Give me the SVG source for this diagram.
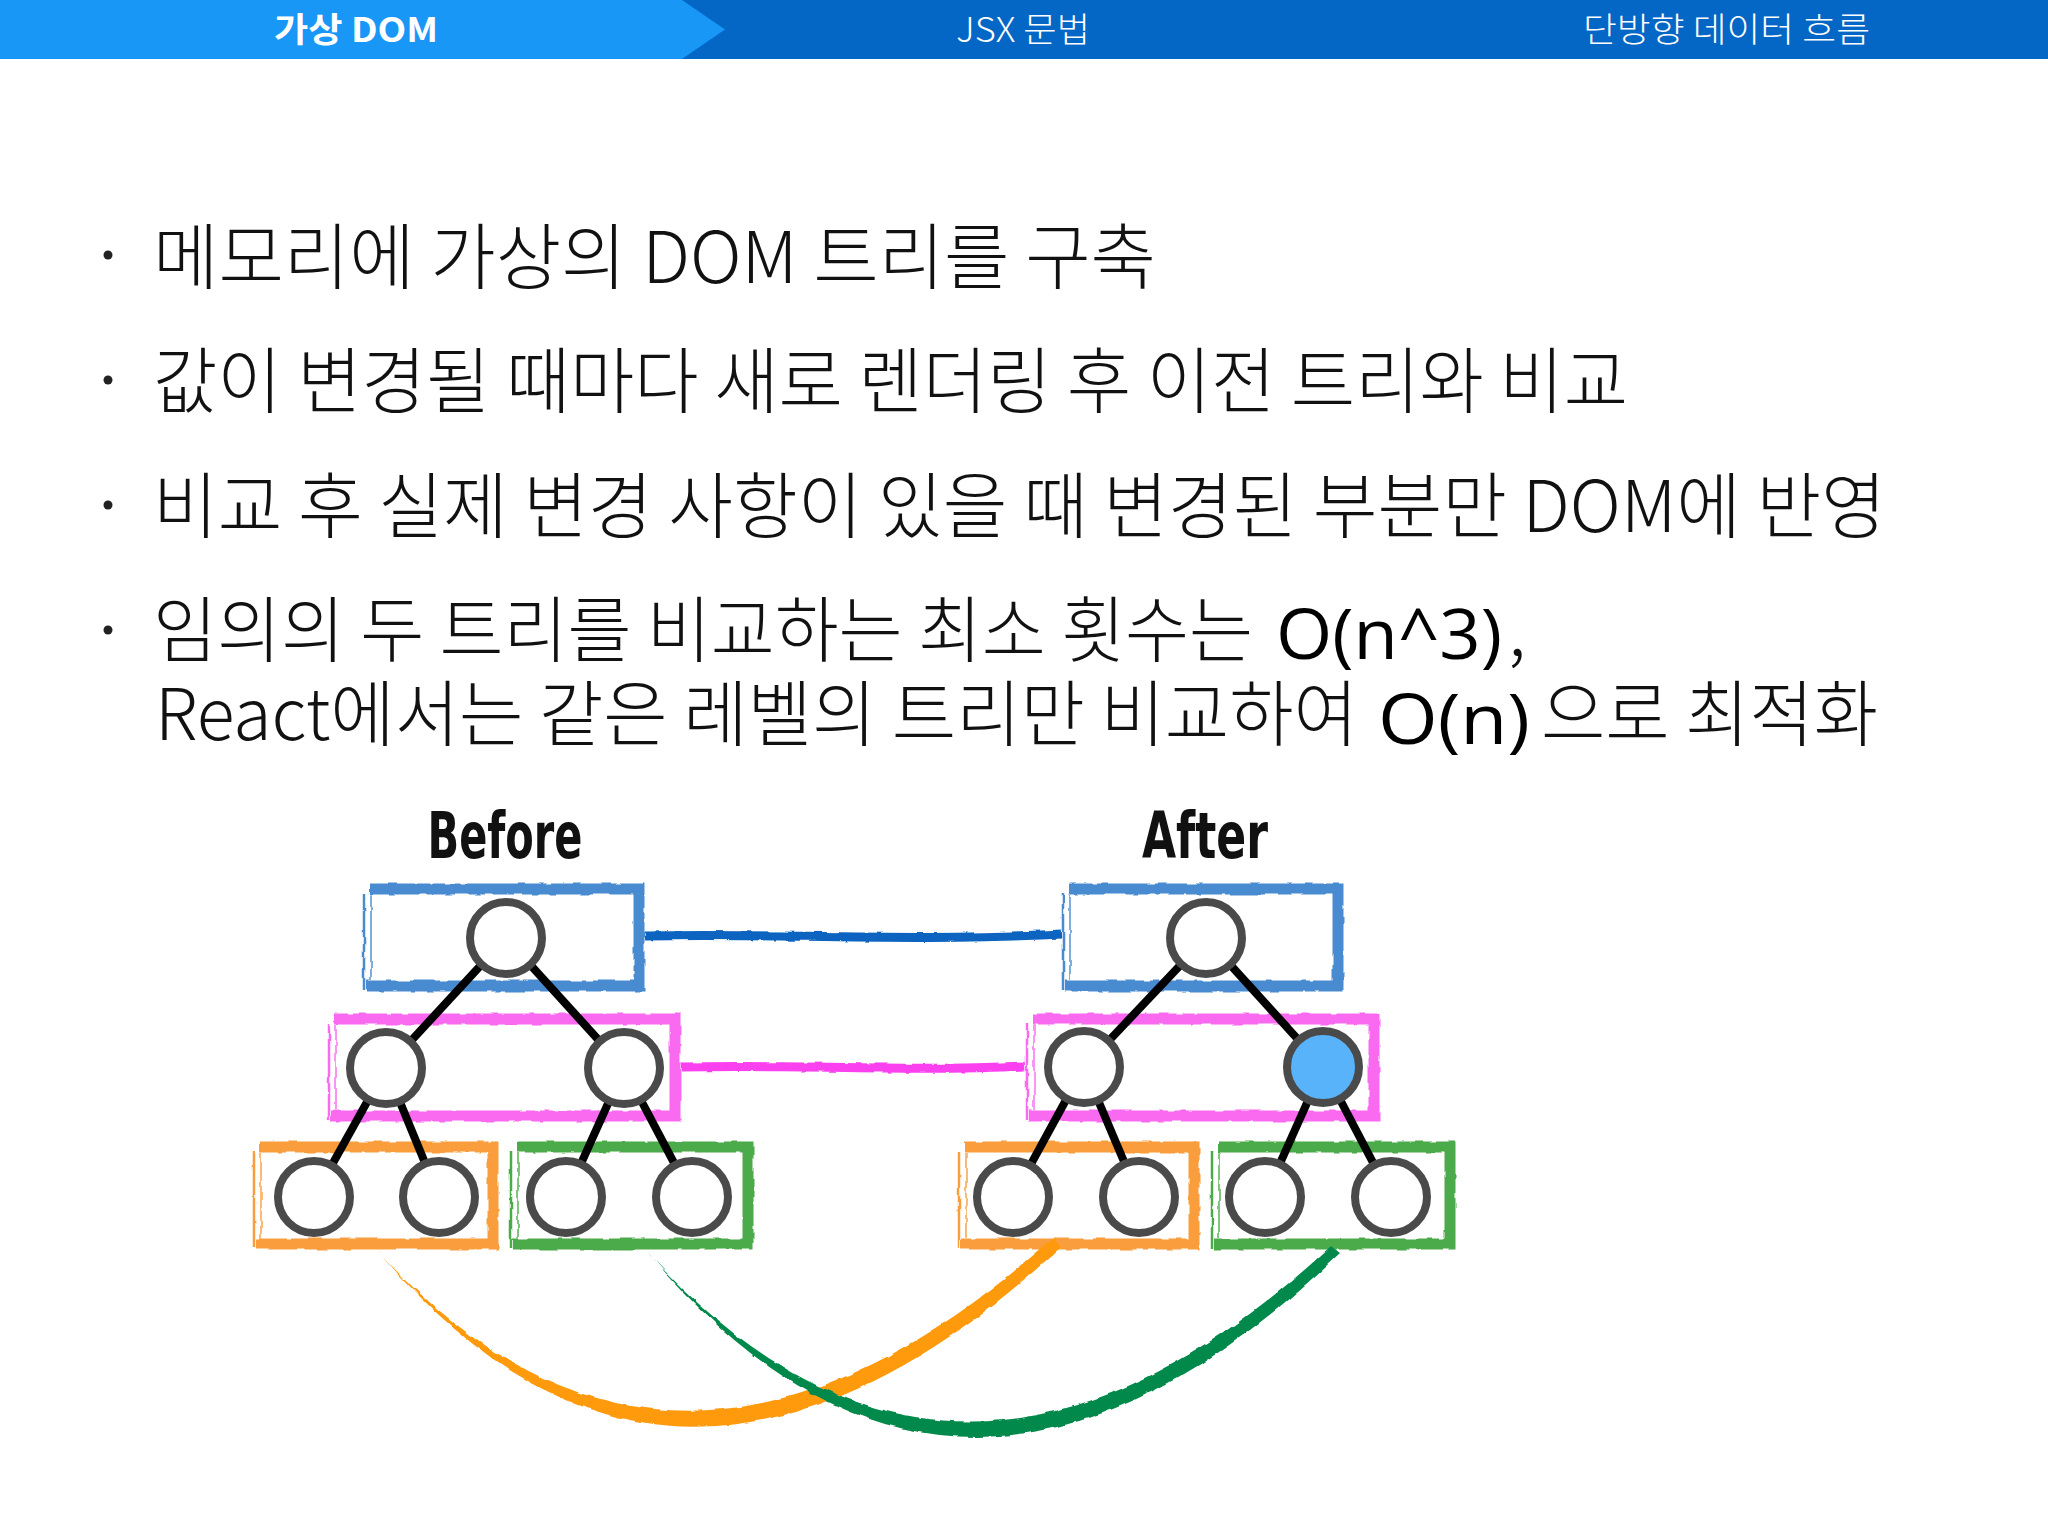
<svg xmlns="http://www.w3.org/2000/svg" width="2048" height="1536" viewBox="0 0 2048 1536">
<defs>
<style>
.hdr{font-family:"Noto Sans CJK KR","Noto Sans",sans-serif;font-size:34px;fill:#fff;font-weight:300}
.hdr-on{font-weight:700}
.body{font-family:"Noto Sans CJK KR","Noto Sans",sans-serif;font-weight:300;font-size:72px;fill:#111}
.math{font-family:"Open Sans","Noto Sans",sans-serif;font-weight:400;font-size:69px;fill:#000}
.lbl{font-family:"Liberation Sans Narrow","DejaVu Sans Condensed","Liberation Sans",sans-serif;font-weight:700;font-size:64px;fill:#111;text-anchor:middle}
.dot{fill:#222}
.band{fill:none;stroke-width:11;stroke-linejoin:miter}
.thin{fill:none;stroke-width:2.5}
.thin2{fill:none;stroke-width:2;opacity:.7}
.blue{stroke:#4a8bd0}
.pink{stroke:#f96af0}
.orange{stroke:#fa9e3e}
.green{stroke:#4caa48}
.node{fill:#fff;stroke:#4a4a4a;stroke-width:8}
.hot{fill:#59b3fa}
.edge{stroke:#000;stroke-width:8}
</style>
<filter id="rough" filterUnits="userSpaceOnUse" x="0" y="0" width="2048" height="1536">
<feTurbulence type="fractalNoise" baseFrequency="0.07" numOctaves="2" seed="4" result="n"/>
<feDisplacementMap in="SourceGraphic" in2="n" scale="4" xChannelSelector="R" yChannelSelector="G"/>
</filter>
</defs>
<rect width="2048" height="1536" fill="#fff"/>

<g id="header">
<rect x="0" y="0" width="2048" height="59" fill="#0466c5"/>
<polygon points="0,0 682,0 725,29.5 682,59 0,59" fill="#1897f7"/>
<text class="hdr hdr-on" x="274" y="42" textLength="164" lengthAdjust="spacingAndGlyphs">가상 DOM</text>
<text class="hdr" x="956" y="42" textLength="134" lengthAdjust="spacingAndGlyphs">JSX 문법</text>
<text class="hdr" x="1583" y="42" textLength="287" lengthAdjust="spacingAndGlyphs">단방향 데이터 흐름</text>
</g>

<g id="bullets">
<circle class="dot" cx="108" cy="255" r="4.5"/>
<circle class="dot" cx="108" cy="380" r="4.5"/>
<circle class="dot" cx="108" cy="505" r="4.5"/>
<circle class="dot" cx="108" cy="630" r="4.5"/>
<text class="body" x="153" y="283" textLength="1003" lengthAdjust="spacingAndGlyphs">메모리에 가상의 DOM 트리를 구축</text>
<text class="body" x="153" y="407" textLength="1475" lengthAdjust="spacingAndGlyphs">값이 변경될 때마다 새로 렌더링 후 이전 트리와 비교</text>
<text class="body" x="153" y="532" textLength="1733" lengthAdjust="spacingAndGlyphs">비교 후 실제 변경 사항이 있을 때 변경된 부분만 DOM에 반영</text>
<text class="body" x="153" y="656" textLength="1100" lengthAdjust="spacingAndGlyphs">임의의 두 트리를 비교하는 최소 횟수는</text>
<text class="math" x="1276" y="659" textLength="226" lengthAdjust="spacingAndGlyphs">O(n^3)</text>
<text class="body" x="1508" y="656">,</text>
<text class="body" x="155" y="740" textLength="1203" lengthAdjust="spacingAndGlyphs">React에서는 같은 레벨의 트리만 비교하여</text>
<text class="math" x="1378" y="744" textLength="152" lengthAdjust="spacingAndGlyphs">O(n)</text>
<text class="body" x="1541" y="740" textLength="337" lengthAdjust="spacingAndGlyphs">으로 최적화</text>
</g>

<text class="lbl" x="505" y="858" textLength="155" lengthAdjust="spacingAndGlyphs">Before</text>
<text class="lbl" x="1205" y="858" textLength="126" lengthAdjust="spacingAndGlyphs">After</text>

<g id="levels" filter="url(#rough)">
<g id="before-level1"><path class="band blue" d="M370,889 H639 V986 H366"/><path class="thin blue" d="M364,893 V990"/><path class="thin2 blue" d="M371,895 V980"/></g>
<g id="before-level2"><path class="band pink" d="M335,1019 H675 V1116 H331"/><path class="thin pink" d="M329,1023 V1120"/><path class="thin2 pink" d="M336,1025 V1110"/></g>
<g id="before-level3a"><path class="band orange" d="M260,1147 H493 V1244 H256"/><path class="thin orange" d="M254,1151 V1248"/><path class="thin2 orange" d="M261,1153 V1238"/></g>
<g id="before-level3b"><path class="band green" d="M517,1147 H748 V1244 H513"/><path class="thin green" d="M511,1151 V1248"/><path class="thin2 green" d="M518,1153 V1238"/></g>
<g id="after-level1"><path class="band blue" d="M1069,889 H1338 V986 H1065"/><path class="thin blue" d="M1063,893 V990"/><path class="thin2 blue" d="M1070,895 V980"/></g>
<g id="after-level2"><path class="band pink" d="M1033,1019 H1374 V1116 H1029"/><path class="thin pink" d="M1027,1023 V1120"/><path class="thin2 pink" d="M1034,1025 V1110"/></g>
<g id="after-level3a"><path class="band orange" d="M965,1147 H1194 V1244 H961"/><path class="thin orange" d="M959,1151 V1248"/><path class="thin2 orange" d="M966,1153 V1238"/></g>
<g id="after-level3b"><path class="band green" d="M1218,1147 H1450 V1244 H1214"/><path class="thin green" d="M1212,1151 V1248"/><path class="thin2 green" d="M1219,1153 V1238"/></g>
</g>

<g id="connectors">
<g filter="url(#rough)">
<path d="M645,936 C780,933 900,942 1061,934" fill="none" stroke="#0a63c0" stroke-width="9"/>
<path d="M681,1067 C800,1064 900,1072 1025,1066" fill="none" stroke="#fb3ff0" stroke-width="9"/>
<path d="M376,1249 Q673,1578 1053,1238 L1061,1247 Q675,1604 379,1252 Z" fill="#ff9a0f"/>
<path d="M647,1252 Q957,1594 1331,1246 L1340,1253 Q958,1620 650,1255 Z" fill="#06894b"/>
</g>
<line class="edge" x1="506" y1="938" x2="386" y2="1068"/>
<line class="edge" x1="506" y1="938" x2="624" y2="1068"/>
<line class="edge" x1="386" y1="1068" x2="314" y2="1197"/>
<line class="edge" x1="386" y1="1068" x2="439" y2="1197"/>
<line class="edge" x1="624" y1="1068" x2="566" y2="1197"/>
<line class="edge" x1="624" y1="1068" x2="692" y2="1197"/>
<line class="edge" x1="1206" y1="938" x2="1084" y2="1067"/>
<line class="edge" x1="1206" y1="938" x2="1323" y2="1067"/>
<line class="edge" x1="1084" y1="1067" x2="1013" y2="1197"/>
<line class="edge" x1="1084" y1="1067" x2="1139" y2="1197"/>
<line class="edge" x1="1323" y1="1067" x2="1265" y2="1197"/>
<line class="edge" x1="1323" y1="1067" x2="1391" y2="1197"/>
</g>

<g id="before-root"><circle class="node" cx="506" cy="938" r="36"/></g>
<g id="before-l"><circle class="node" cx="386" cy="1068" r="36"/></g>
<g id="before-r"><circle class="node" cx="624" cy="1068" r="36"/></g>
<g id="before-ll"><circle class="node" cx="314" cy="1197" r="36"/></g>
<g id="before-lr"><circle class="node" cx="439" cy="1197" r="36"/></g>
<g id="before-rl"><circle class="node" cx="566" cy="1197" r="36"/></g>
<g id="before-rr"><circle class="node" cx="692" cy="1197" r="36"/></g>
<g id="after-root"><circle class="node" cx="1206" cy="938" r="36"/></g>
<g id="after-l"><circle class="node" cx="1084" cy="1067" r="36"/></g>
<g id="after-r"><circle class="node hot" cx="1323" cy="1067" r="36"/></g>
<g id="after-ll"><circle class="node" cx="1013" cy="1197" r="36"/></g>
<g id="after-lr"><circle class="node" cx="1139" cy="1197" r="36"/></g>
<g id="after-rl"><circle class="node" cx="1265" cy="1197" r="36"/></g>
<g id="after-rr"><circle class="node" cx="1391" cy="1197" r="36"/></g>
</svg>
